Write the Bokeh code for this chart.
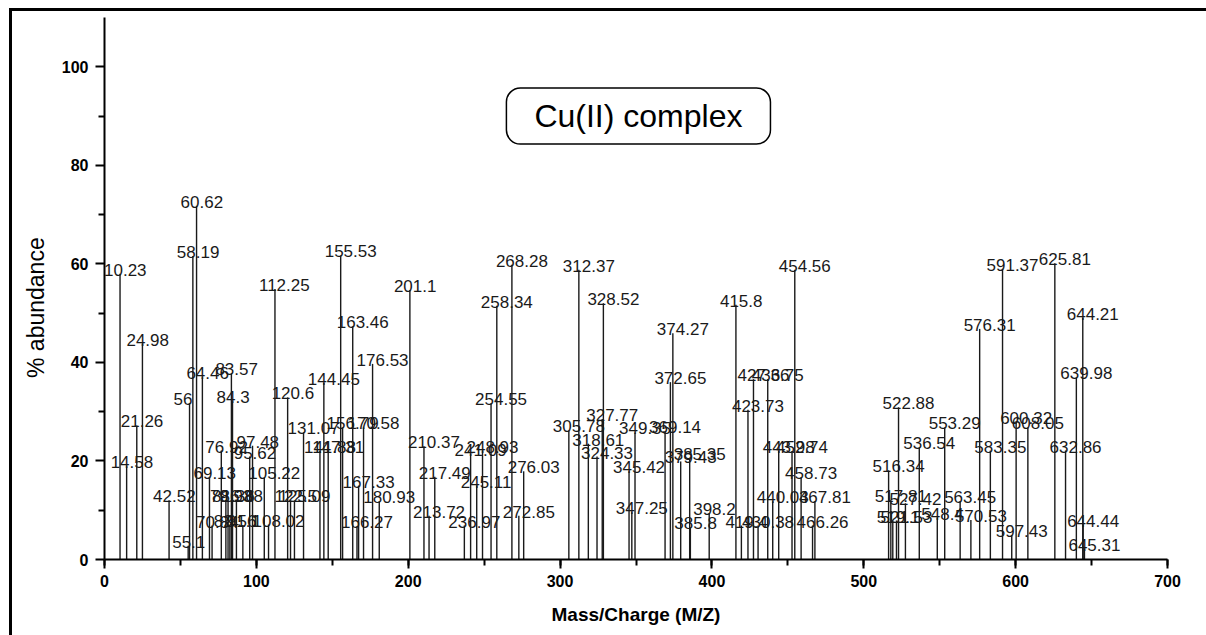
from bokeh.plotting import figure
from bokeh.models import Range1d, Label, ColumnDataSource, SingleIntervalTicker, FixedTicker
from bokeh.embed import file_html
from bokeh.resources import INLINE
from bokeh.core.properties import value

mz = [10.23, 14.58, 21.26, 24.98, 42.52, 55.1, 56, 58.19, 60.62, 64.46,
      69.13, 70.84, 76.92, 79.93, 81.36, 82.56, 83.57, 84.3, 86.88, 91.1,
      97.48, 95.62, 105.22, 108.02, 112.25, 120.6, 122.5, 125.09, 131.07, 141.88,
      144.45, 147.31, 155.53, 156.79, 163.46, 166.27, 167.33, 170.58, 176.53, 180.93,
      201.1, 210.37, 213.72, 217.49, 236.97, 241.09, 245.11, 248.93, 254.55, 258.34,
      268.28, 272.85, 276.03, 305.78, 312.37, 318.61, 324.33, 327.77, 328.52, 345.42,
      347.25, 349.35, 369.14, 372.65, 374.27, 379.43, 385.35, 385.8, 398.2, 415.8,
      419.4, 423.73, 427.36, 430.38, 436.75, 440.03, 443.98, 452.74, 454.56, 458.73,
      466.26, 467.81, 516.34, 517.81, 519.1, 521.53, 522.88, 527.42, 536.54, 548.4,
      553.29, 563.45, 570.53, 576.31, 583.35, 591.37, 597.43, 600.32, 608.05, 625.81,
      632.86, 639.98, 644.21, 644.44, 645.31]
labels = ["10.23", "14.58", "21.26", "24.98", "42.52", "55.1", "56", "58.19", "60.62", "64.46",
          "69.13", "70.84", "76.92", "79.93", "81.36", "82.56", "83.57", "84.3", "86.88", "91.1",
          "97.48", "95.62", "105.22", "108.02", "112.25", "120.6", "122.5", "125.09", "131.07", "141.88",
          "144.45", "147.31", "155.53", "156.79", "163.46", "166.27", "167.33", "170.58", "176.53", "180.93",
          "201.1", "210.37", "213.72", "217.49", "236.97", "241.09", "245.11", "248.93", "254.55", "258.34",
          "268.28", "272.85", "276.03", "305.78", "312.37", "318.61", "324.33", "327.77", "328.52", "345.42",
          "347.25", "349.35", "369.14", "372.65", "374.27", "379.43", "385.35", "385.8", "398.2", "415.8",
          "419.4", "423.73", "427.36", "430.38", "436.75", "440.03", "443.98", "452.74", "454.56", "458.73",
          "466.26", "467.81", "516.34", "517.81", "519.1", "521.53", "522.88", "527.42", "536.54", "548.4",
          "553.29", "563.45", "570.53", "576.31", "583.35", "591.37", "597.43", "600.32", "608.05", "625.81",
          "632.86", "639.98", "644.21", "644.44", "645.31"]
abundance = [58.0, 18.9, 27.2, 43.8, 12.0, 2.8, 31.7, 61.6, 71.8, 37.0,
             16.8, 6.9, 22.1, 12.0, 12.0, 7.0, 37.8, 32.1, 12.0, 7.0,
             23.1, 20.9, 16.7, 7.1, 54.9, 32.9, 12.0, 12.0, 25.8, 22.0,
             35.8, 22.0, 61.7, 26.8, 47.3, 6.7, 15.0, 26.8, 39.7, 11.8,
             54.7, 23.0, 8.9, 16.8, 6.9, 21.4, 15.0, 22.1, 31.7, 51.5,
             59.8, 8.9, 17.9, 26.2, 58.8, 23.5, 20.9, 28.5, 52.0, 17.9,
             9.6, 25.8, 26.0, 36.0, 45.9, 19.9, 20.5, 6.5, 9.4, 51.7,
             6.9, 30.4, 36.6, 6.9, 36.6, 11.8, 22.0, 22.0, 58.8, 16.7,
             6.9, 11.8, 18.1, 12.1, 7.9, 7.9, 30.9, 11.4, 22.8, 8.5,
             26.8, 11.8, 8.0, 46.8, 22.1, 59.0, 4.9, 27.9, 26.8, 60.1,
             22.1, 37.0, 49.0, 7.0, 2.2]
title_text = "Cu(II) complex"
x_axis_label = "Mass/Charge (M/Z)"
y_axis_label = "% abundance"

src = ColumnDataSource(dict(x=mz, y=abundance, base=[0] * len(mz), lab=labels))

p = figure(width=1206, height=635, output_backend="svg", toolbar_location=None,
           x_range=Range1d(0, 700), y_range=Range1d(0, 110),
           min_border_left=104, min_border_right=39, min_border_top=17, min_border_bottom=76)
p.grid.visible = False
p.outline_line_color = None
p.background_fill_color = "white"
p.border_fill_color = None

p.segment(x0="x", y0="base", x1="x", y1="y", source=src, line_color="#1a1a1a", line_width=1.4)
p.text(x="x", y="y", text="lab", source=src, text_align="left", text_baseline="alphabetic",
       x_offset=-16, y_offset=-4, text_font=value("Liberation Sans"), text_font_size="17px",
       text_color="#1a1a1a")

p.xaxis.ticker = SingleIntervalTicker(interval=100, num_minor_ticks=2)
p.yaxis.ticker = FixedTicker(ticks=[0, 20, 40, 60, 80, 100], minor_ticks=[10, 30, 50, 70, 90])
for ax in (p.xaxis, p.yaxis):
    ax.axis_line_width = 2
    ax.major_tick_line_width = 2
    ax.minor_tick_line_width = 2
    ax.major_tick_in = 0
    ax.minor_tick_in = 0
    ax.major_tick_out = 9
    ax.minor_tick_out = 6
    ax.major_label_text_font = "Liberation Sans"
    ax.major_label_text_font_style = "bold"
    ax.major_label_text_font_size = "16px"
    ax.major_label_text_color = "black"
    ax.axis_label_text_font = "Liberation Sans"
    ax.axis_label_text_color = "black"
p.xaxis.axis_label = x_axis_label
p.xaxis.axis_label_text_font_style = "bold"
p.xaxis.axis_label_text_font_size = "19px"
p.xaxis.major_label_standoff = 6
p.xaxis.axis_label_standoff = 14
# trailing no-break spaces push the visible title a little below the frame centre
p.yaxis.axis_label = y_axis_label + "\u00a0" * 6
p.yaxis.axis_label_text_font_style = "normal"
p.yaxis.axis_label_text_font_size = "23px"
p.yaxis.major_label_standoff = 7
p.yaxis.axis_label_standoff = 10

p.add_layout(Label(x=351.6, y=90, text=title_text, text_align="center", text_baseline="middle",
                   text_font="Liberation Sans", text_font_size="32px", text_color="black",
                   padding=(28, 10), border_line_color="black", border_line_width=1.5,
                   border_radius=14, background_fill_color="white"))

p.styles = {
    "background-image": "linear-gradient(black, black), linear-gradient(black, black)",
    "background-repeat": "no-repeat, no-repeat",
    "background-position": "9px 8px, 9px 8px",
    "background-size": "3px 100%, 100% 3px",
    "background-color": "white",
}

open("out.html", "w").write(file_html(p, INLINE))
